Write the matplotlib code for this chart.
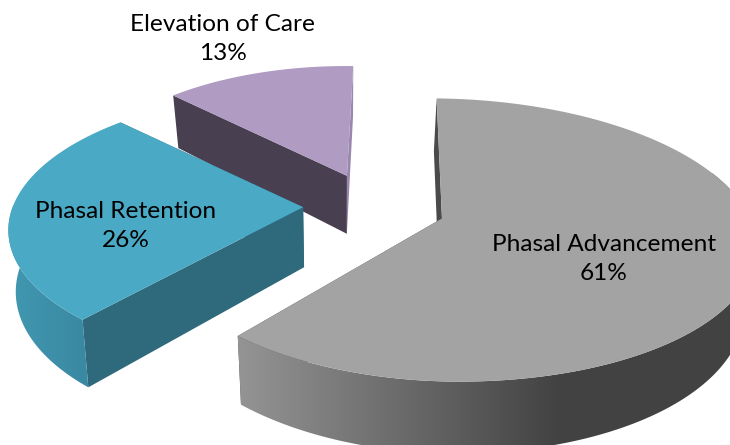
import numpy as np
import matplotlib
matplotlib.use('Agg')
import matplotlib.pyplot as plt
from matplotlib.colors import to_rgb
from matplotlib.patches import Polygon

# Data
labels = ['Phasal Advancement', 'Phasal Retention', 'Elevation of Care']
shares = [61, 26, 13]
top_colors = ['#A3A3A3', '#4AA9C4', '#B09BC3']
start_cut_colors = ['#4A4A4A', '#2F697C', '#483F50']
end_cut_colors = ['#4A4A4A', '#2F697C', '#9A87AE']
wall_left = ['#949494', '#4197B1', '#9A87AE']
wall_right = ['#424242', '#3A88A1', '#9A87AE']
wall_span = [(240, 560), (10, 90), (170, 350)]
label_pos = [(604, 259), (126, 226), (223, 39)]

# Projection of the pie plane onto the picture
X0, Y0 = 345.0, 206.0
A, B, K = 279.0, 134.6, 0.15
H = 60.0
START = 88.4
EXPLODE = 0.25
PIE_CX = 0.10
# per slice radius tweaks, the picture is not a perfect circle in perspective
r_right = [1.09, 1.04, 1.0]
r_left = [1.03, 1.04, 1.0]
r_v = [1.0, 0.985, 1.0]
shift_u = [0.01, 0.0, 0.0]
lean = [0.03, 0.022, 0.03]
wall_limit = [0.35, 0.02, 0.0]


def project(u, v, z=0.0, m=0.03):
    d = 1 + K * v
    x = X0 + A * u / d
    y = Y0 - B * v / d + z * H / d
    x = X0 + (x - X0) * (1 - m * z)
    return x, y


fig = plt.figure(figsize=(7.3, 4.45), dpi=100)
ax = fig.add_axes([0, 0, 1, 1])

# Wedge angles
fracs = np.array(shares) / sum(shares) * 360
ends = START - np.cumsum(fracs)
starts = ends + fracs


def draw_slice(i, zorder):
    mid = np.radians((starts[i] + ends[i]) / 2)
    cu = PIE_CX + EXPLODE * np.cos(mid) + shift_u[i]
    cv = EXPLODE * np.sin(mid)
    t = np.radians(np.linspace(starts[i], ends[i], 300))
    cs = np.cos(t)
    us = cu + np.where(cs > 0, r_right[i], r_left[i]) * cs
    vs = cv + r_v[i] * np.sin(t)
    m = lean[i]

    # cut faces
    for j, col in ((0, start_cut_colors[i]), (-1, end_cut_colors[i])):
        px = [project(cu, cv, 0), project(us[j], vs[j], 0),
              project(us[j], vs[j], 1, m), project(cu, cv, 1, m)]
        ax.fill(*zip(*px), color=col, lw=0, zorder=zorder)

    # outer wall, shaded across its width
    front = vs - cv < wall_limit[i]
    if front.any():
        tx, ty = project(us[front], vs[front], 0)
        bx, by = project(us[front], vs[front], 1, m)
        outline = np.c_[np.r_[tx, bx[::-1]], np.r_[ty, by[::-1]]]
        c0, c1 = np.array(to_rgb(wall_left[i])), np.array(to_rgb(wall_right[i]))
        cols = np.arange(730) + 0.5
        f = np.clip((cols - wall_span[i][0]) / (wall_span[i][1] - wall_span[i][0]), 0, 1)
        grad = (c0 + (c1 - c0) * f[:, None])[None, :, :]
        im = ax.imshow(grad, extent=(0, 730, 445, 0), aspect='auto', zorder=zorder + 0.1)
        im.set_clip_path(Polygon(outline, transform=ax.transData))

    # top face
    tx, ty = project(us, vs)
    ax.fill(np.r_[project(cu, cv)[0], tx], np.r_[project(cu, cv)[1], ty],
            color=top_colors[i], lw=0, zorder=zorder + 0.2)


draw_slice(2, 1)
draw_slice(1, 2)
draw_slice(0, 3)

for name, val, (x, y) in zip(labels, shares, label_pos):
    ax.text(x, y, f'{name}\n{val}%', ha='center', va='center', fontsize=17.6,
            family='Lato', color='black', linespacing=1.45, zorder=10)

ax.set_xlim(0, 730)
ax.set_ylim(445, 0)
ax.axis('off')

fig.savefig('out.png', dpi=100)
